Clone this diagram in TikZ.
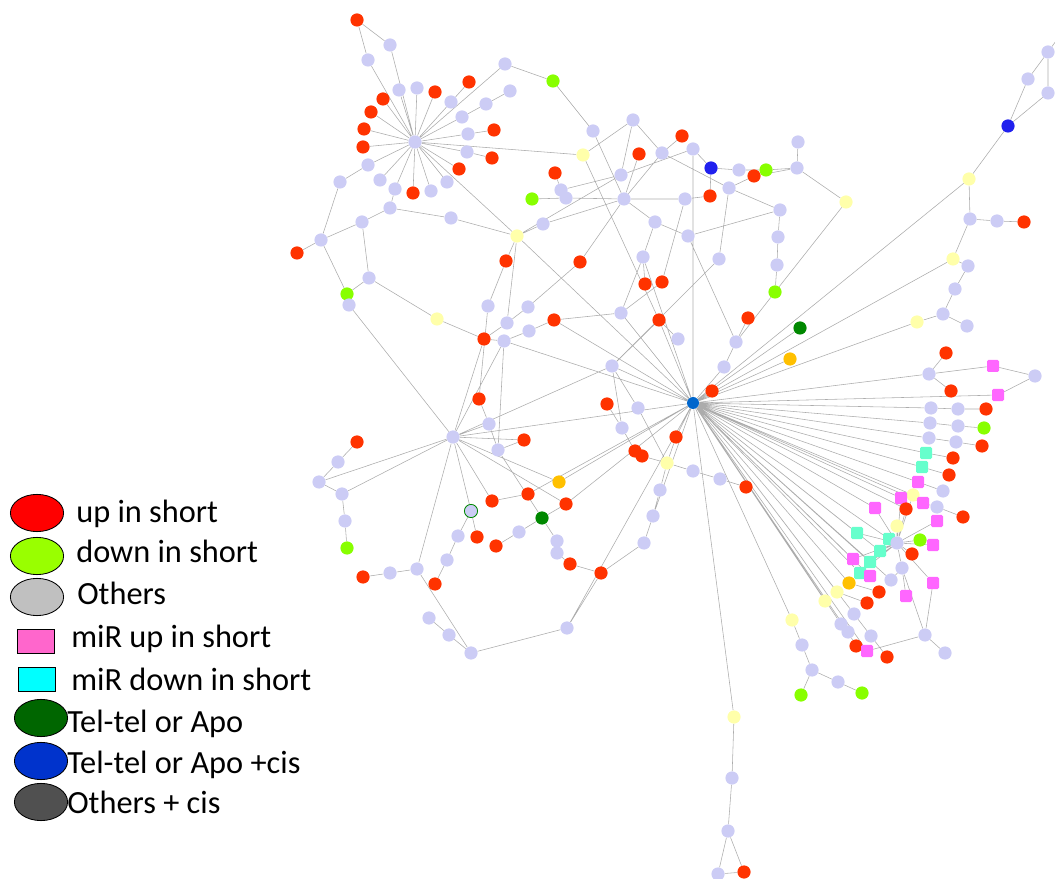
\documentclass[tikz,border=0pt]{standalone}
\usepackage{fontspec}
\setmainfont{Carlito}
\usetikzlibrary{shapes.geometric,backgrounds}

\definecolor{lavnode}{RGB}{204,204,245}
\definecolor{upnode}{RGB}{255,51,0}
\definecolor{dnnode}{RGB}{136,255,0}
\definecolor{yelnode}{RGB}{255,255,170}
\definecolor{oranode}{RGB}{255,192,0}
\definecolor{telnode}{RGB}{0,136,0}
\definecolor{cisnode}{RGB}{32,32,238}
\definecolor{hubnode}{RGB}{0,102,204}
\definecolor{mupnode}{RGB}{255,102,255}
\definecolor{mdnnode}{RGB}{102,255,204}

\tikzset{
  gn/.style={circle, inner sep=0pt, minimum size=0.33cm},
  oth/.style={gn, fill=lavnode},
  upn/.style={gn, fill=upnode},
  dnn/.style={gn, fill=dnnode},
  yel/.style={gn, fill=yelnode},
  ora/.style={gn, fill=oranode},
  tel/.style={gn, fill=telnode},
  cis/.style={gn, fill=cisnode},
  hubn/.style={gn, fill=hubnode},
  mup/.style={rectangle, rounded corners=1pt, inner sep=0pt, minimum size=0.3cm, fill=mupnode},
  mdn/.style={rectangle, rounded corners=1pt, inner sep=0pt, minimum size=0.3cm, fill=mdnnode},
  link/.style={draw=gray!65, line width=0.4pt},
  key/.style={ellipse, draw=black, line width=0.6pt, minimum width=1.33cm, minimum height=0.93cm},
  keysq/.style={rectangle, draw=black, line width=0.6pt, minimum width=0.92cm, minimum height=0.6cm},
  keytxt/.style={anchor=base west, inner sep=0pt, font=\fontsize{23}{26}\selectfont}
}

\begin{document}
\begin{tikzpicture}[x=0.025cm, y=-0.025cm]
\useasboundingbox (0,0) rectangle (1055,879);

% legend
\node[key, fill={rgb,255:red,255;green,0;blue,0}] (k1) at (37,513) {};
\node[key, fill={rgb,255:red,153;green,255;blue,0}] (k2) at (37,556) {};
\node[key, fill={rgb,255:red,192;green,192;blue,192}] (k3) at (37,597) {};
\node[keysq, fill={rgb,255:red,255;green,102;blue,204}] (k4) at (36,641) {};
\node[keysq, fill={rgb,255:red,0;green,255;blue,255}] (k5) at (37,679) {};
\node[key, fill={rgb,255:red,0;green,102;blue,0}] (k6) at (41,718) {};
\node[key, fill={rgb,255:red,0;green,51;blue,204}] (k7) at (41,761) {};
\node[key, fill={rgb,255:red,80;green,80;blue,80}] (k8) at (41,802) {};
\node[keytxt] (t1) at (76,523) {up in short};
\node[keytxt] (t2) at (76,563) {down in short};
\node[keytxt] (t3) at (77,605) {Others};
\node[keytxt] (t4) at (71,648) {miR up in short};
\node[keytxt] (t5) at (71,690) {miR down in short};
\node[keytxt] (t6) at (67,732) {Tel-tel or Apo};
\node[keytxt] (t7) at (67,773) {Tel-tel or Apo +cis};
\node[keytxt] (t8) at (67,813) {Others + cis};

% upper left star
\node[oth] (h1) at (415,142) {};
\node[upn] (a1) at (357,20) {};  \node[oth] (a2) at (390,45) {};  \node[oth] (a3) at (368,60) {};
\node[oth] (a4) at (399,90) {};  \node[oth] (a5) at (417,88) {};  \node[upn] (a6) at (435,92) {};
\node[upn] (a7) at (469,82) {};  \node[oth] (a8) at (451,102) {}; \node[upn] (a9) at (383,99) {};
\node[upn] (a10) at (371,112) {}; \node[oth] (a11) at (462,117) {}; \node[oth] (a12) at (486,104) {};
\node[oth] (a13) at (510,91) {};  \node[upn] (a14) at (364,129) {}; \node[oth] (a15) at (468,134) {};
\node[upn] (a16) at (494,130) {}; \node[upn] (a17) at (363,147) {}; \node[oth] (a18) at (467,152) {};
\node[upn] (a19) at (492,158) {}; \node[upn] (a20) at (459,169) {}; \node[oth] (a21) at (368,165) {};
\node[oth] (a22) at (340,182) {}; \node[oth] (a23) at (380,180) {}; \node[oth] (a24) at (395,189) {};
\node[upn] (a25) at (413,193) {}; \node[oth] (a26) at (431,191) {}; \node[oth] (a27) at (447,182) {};
\node[oth] (a28) at (390,208) {}; \node[oth] (a29) at (362,222) {}; \node[oth] (a30) at (451,218) {};
\node[oth] (a31) at (321,240) {}; \node[upn] (a32) at (297,253) {}; \node[oth] (a33) at (369,278) {};
\node[dnn] (a34) at (347,294) {}; \node[oth] (a35) at (349,305) {}; \node[oth] (a36) at (505,64) {};
\node[dnn] (a37) at (553,81) {};  \node[yel] (y1) at (517,236) {};  \node[upn] (a38) at (506,261) {};

% upper middle
\node[oth] (b1) at (593,131) {};  \node[oth] (b2) at (633,120) {};  \node[upn] (b3) at (682,136) {};
\node[yel] (b4) at (583,155) {};  \node[upn] (b5) at (639,154) {};  \node[oth] (b6) at (662,153) {};
\node[oth] (b7) at (693,149) {};  \node[cis] (b8) at (711,168) {};  \node[oth] (b9) at (739,170) {};
\node[upn] (b10) at (754,176) {}; \node[dnn] (b11) at (766,170) {}; \node[upn] (b12) at (555,173) {};
\node[oth] (b13) at (561,190) {}; \node[oth] (b14) at (566,198) {}; \node[dnn] (b15) at (532,199) {};
\node[oth] (b16) at (621,175) {}; \node[oth] (b17) at (624,199) {}; \node[oth] (b18) at (685,199) {};
\node[upn] (b19) at (710,196) {}; \node[oth] (b20) at (729,188) {}; \node[oth] (b21) at (780,210) {};
\node[oth] (b22) at (543,224) {}; \node[oth] (b23) at (655,222) {}; \node[oth] (b24) at (688,236) {};
\node[oth] (b25) at (778,237) {}; \node[oth] (b26) at (777,265) {}; \node[oth] (b27) at (643,257) {};
\node[oth] (b28) at (719,259) {}; \node[upn] (b29) at (580,262) {}; \node[upn] (b30) at (645,284) {};
\node[upn] (b31) at (662,282) {}; \node[dnn] (b32) at (775,292) {}; \node[oth] (b33) at (798,142) {};
\node[oth] (b34) at (797,168) {}; \node[yel] (b35) at (846,202) {};

% middle
\node[yel] (c1) at (437,319) {};  \node[oth] (c2) at (488,306) {};  \node[oth] (c3) at (528,307) {};
\node[oth] (c4) at (507,323) {};  \node[oth] (c5) at (529,331) {};  \node[upn] (c6) at (484,339) {};
\node[oth] (c7) at (504,341) {};  \node[upn] (c8) at (554,320) {};  \node[oth] (c9) at (621,313) {};
\node[upn] (c10) at (659,320) {}; \node[oth] (c11) at (678,339) {}; \node[upn] (c12) at (748,318) {};
\node[oth] (c13) at (736,342) {}; \node[oth] (c14) at (612,366) {}; \node[oth] (c15) at (724,367) {};
\node[upn] (c16) at (712,391) {}; \node[tel] (c17) at (800,328) {}; \node[ora] (c18) at (790,359) {};
\node[upn] (c19) at (479,399) {}; \node[oth] (c20) at (489,424) {}; \node[oth] (h2) at (453,437) {};
\node[upn] (c21) at (524,440) {}; \node[oth] (c22) at (498,450) {}; \node[upn] (c23) at (607,404) {};
\node[oth] (c24) at (638,408) {}; \node[oth] (c25) at (622,428) {}; \node[upn] (c26) at (676,437) {};
\node[upn] (c27) at (635,451) {}; \node[upn] (c28) at (642,456) {}; \node[yel] (c29) at (667,463) {};
\node[oth] (c30) at (693,471) {}; \node[oth] (c31) at (720,479) {}; \node[upn] (c32) at (746,487) {};
\node[ora] (c33) at (559,482) {}; \node[oth] (c34) at (660,490) {}; \node[oth] (c35) at (653,516) {};
\node[oth] (c36) at (644,543) {}; \node[upn] (c37) at (566,504) {}; \node[tel] (c38) at (542,518) {};
\node[upn] (c39) at (528,494) {}; \node[upn] (c40) at (492,501) {};
\node[oth, draw=telnode, line width=0.6pt] (c41) at (471,511) {};
\node[oth] (c42) at (519,532) {}; \node[upn] (c43) at (496,546) {}; \node[upn] (c44) at (477,537) {};
\node[oth] (c45) at (458,536) {}; \node[oth] (c46) at (447,560) {}; \node[upn] (c47) at (435,584) {};
\node[oth] (c48) at (557,541) {}; \node[oth] (c49) at (557,553) {}; \node[upn] (c50) at (570,564) {};
\node[upn] (c51) at (601,573) {}; \node[oth] (c52) at (567,628) {}; \node[oth] (c53) at (471,653) {};
\node[oth] (c54) at (449,635) {}; \node[oth] (c55) at (429,618) {}; \node[oth] (c56) at (417,569) {};
\node[oth] (c57) at (390,573) {}; \node[upn] (c58) at (363,577) {};
\node[hubn, minimum size=0.3cm] (H) at (693,403) {};

% left arm
\node[upn] (d1) at (357,442) {}; \node[oth] (d2) at (338,462) {}; \node[oth] (d3) at (319,482) {};
\node[oth] (d4) at (342,494) {}; \node[oth] (d5) at (345,521) {}; \node[dnn] (d6) at (347,548) {};

% upper right arm
\coordinate (eout) at (1064,30);
\node[oth] (e1) at (1048,52) {};  \node[oth] (e2) at (1028,79) {};  \node[oth] (e3) at (1048,93) {};
\node[cis] (e4) at (1008,126) {}; \node[yel] (e5) at (969,179) {};  \node[oth] (e6) at (970,219) {};
\node[oth] (e7) at (997,221) {};  \node[upn] (e8) at (1024,222) {}; \node[yel] (e9) at (953,259) {};
\node[oth] (e10) at (968,266) {}; \node[oth] (e11) at (955,289) {}; \node[oth] (e12) at (943,314) {};
\node[oth] (e13) at (967,326) {}; \node[yel] (e14) at (917,322) {};

% right fan
\node[upn] (f1) at (946,353) {};  \node[oth] (f2) at (929,374) {};  \node[mup] (f3) at (993,366) {};
\node[oth] (f4) at (1035,376) {}; \node[upn] (f5) at (951,391) {};  \node[mup] (f6) at (998,395) {};
\node[oth] (f7) at (931,408) {};  \node[oth] (f8) at (958,409) {};  \node[upn] (f9) at (986,409) {};
\node[oth] (f10) at (930,423) {}; \node[oth] (f11) at (958,426) {}; \node[dnn] (f12) at (984,428) {};
\node[oth] (f13) at (929,438) {}; \node[oth] (f14) at (956,442) {}; \node[upn] (f15) at (982,446) {};
\node[mdn] (f16) at (926,453) {}; \node[upn] (f17) at (953,458) {}; \node[mdn] (f18) at (922,467) {};
\node[upn] (f19) at (949,475) {}; \node[mup] (f20) at (918,482) {}; \node[oth] (f21) at (943,491) {};
\node[yel] (f22) at (913,495) {}; \node[mup] (f23) at (901,498) {}; \node[mup] (f24) at (923,503) {};
\node[oth] (f25) at (937,507) {}; \node[upn] (f26) at (963,517) {}; \node[mup] (f27) at (875,508) {};
\node[upn] (f28) at (906,509) {}; \node[mup] (f29) at (937,521) {}; \node[yel] (f30) at (897,526) {};
\node[mdn] (f31) at (857,533) {}; \node[mdn] (f32) at (889,539) {}; \node[oth] (h3) at (897,543) {};
\node[dnn] (f33) at (920,540) {}; \node[mup] (f34) at (933,545) {}; \node[mdn] (f35) at (880,551) {};
\node[upn] (f36) at (912,554) {}; \node[mup] (f37) at (853,559) {}; \node[mdn] (f38) at (870,562) {};
\node[oth] (f39) at (902,568) {}; \node[mdn] (f40) at (860,573) {}; \node[mup] (f41) at (870,576) {};
\node[oth] (f42) at (891,580) {}; \node[mup] (f43) at (933,583) {}; \node[ora] (f44) at (849,583) {};
\node[yel] (f45) at (837,592) {}; \node[upn] (f46) at (879,592) {}; \node[mup] (f47) at (906,596) {};
\node[yel] (f48) at (825,601) {}; \node[upn] (f49) at (867,603) {}; \node[oth] (f50) at (854,614) {};
\node[yel] (f51) at (792,620) {}; \node[oth] (f52) at (841,624) {}; \node[oth] (f53) at (848,632) {};
\node[oth] (f54) at (871,636) {}; \node[oth] (f55) at (925,635) {}; \node[upn] (f56) at (856,646) {};
\node[mup] (f57) at (867,651) {}; \node[upn] (f58) at (887,657) {}; \node[oth] (f59) at (945,653) {};

% lower arms
\node[oth] (g1) at (802,645) {}; \node[oth] (g2) at (812,670) {}; \node[oth] (g3) at (838,682) {};
\node[dnn] (g4) at (862,693) {}; \node[dnn] (g5) at (801,695) {}; \node[yel] (g6) at (734,717) {};
\node[oth] (g7) at (732,778) {}; \node[oth] (g8) at (728,831) {}; \node[oth] (g9) at (718,874) {};
\node[upn] (g10) at (744,872) {};

\begin{scope}[on background layer]
% star 1
\draw[link] (h1)--(a2) (h1)--(a3) (a1)--(a2) (a1)--(a3) (h1)--(a4) (h1)--(a5) (h1)--(a6)
  (h1)--(a8) (a8)--(a7) (h1)--(a11) (a11)--(a12) (a12)--(a13) (h1)--(a9) (h1)--(a10)
  (h1)--(a14) (h1)--(a15) (a15)--(a16) (h1)--(a17) (h1)--(a18) (a18)--(a19) (h1)--(a20)
  (h1)--(a21) (h1)--(a23) (h1)--(a24) (h1)--(a25) (h1)--(a26) (h1)--(a27) (h1)--(a36)
  (h1)--(b4) (h1)--(y1) (a21)--(a22) (a22)--(a31) (a24)--(a28) (a28)--(a29) (a28)--(a30)
  (a30)--(y1) (a29)--(a31) (a31)--(a32) (a31)--(a34) (a29)--(a33) (a33)--(a34) (a33)--(c1)
  (a35)--(h2) (c1)--(c6) (a36)--(a37) (a37)--(b1);
% top
\draw[link] (b1)--(b17) (b2)--(b4) (b2)--(b6) (b2)--(b16) (b6)--(b3) (b6)--(b17) (b6)--(b20)
  (b7)--(H) (b7)--(b8) (b16)--(b7) (b8)--(b9) (b9)--(b11) (b11)--(b34) (b20)--(b10) (b10)--(b34)
  (b8)--(b19) (b17)--(b18) (b18)--(b19) (b17)--(b5) (b12)--(b13) (b13)--(b16) (b14)--(b17)
  (b15)--(b14) (b22)--(b17) (b22)--(y1) (b17)--(b29) (b29)--(c3) (b17)--(b23) (b23)--(b24)
  (b24)--(b21) (b24)--(c13) (b23)--(b27) (b27)--(b30) (b27)--(c9) (b18)--(b31) (b31)--(c9)
  (b20)--(b28) (b28)--(c14) (b20)--(b21) (b21)--(b25) (b25)--(b26) (b26)--(b32) (b32)--(b35)
  (b32)--(c13) (b33)--(b34) (b34)--(b35) (b4)--(c10) (b16)--(y1);
% middle
\draw[link] (c10)--(c11) (c10)--(H) (c10)--(c14) (c8)--(c5) (c8)--(c9) (c13)--(c12) (c15)--(c13)
  (H)--(c15) (H)--(c16) (y1)--(H) (y1)--(a38) (a38)--(c2) (y1)--(c4) (c4)--(c3) (c4)--(c6)
  (c5)--(c7) (c6)--(c7) (c7)--(H) (c19)--(c2) (c19)--(c20) (c20)--(c22) (c22)--(c21) (c7)--(c22)
  (c22)--(c38) (h2)--(c6) (h2)--(c7) (h2)--(c14) (h2)--(c21) (h2)--(H) (h2)--(c33) (h2)--(c37)
  (h2)--(c41) (h2)--(c40) (h2)--(d3) (h2)--(d4) (h2)--(c56) (h2)--(c20) (c40)--(c39) (c39)--(H)
  (c41)--(c44) (c41)--(c45) (c45)--(c46) (c46)--(c47) (c43)--(c42) (c42)--(c38) (c38)--(c37)
  (c37)--(H) (c38)--(c48) (c48)--(c49) (c49)--(c50) (c50)--(c51) (c51)--(c52) (c52)--(c53)
  (c53)--(c54) (c54)--(c55) (c53)--(c56) (c56)--(c57) (c57)--(c58) (c51)--(c36) (c36)--(c35)
  (c35)--(c34) (c34)--(c29) (c29)--(c30) (c30)--(c31) (c31)--(c32) (c29)--(c26) (c26)--(H)
  (c23)--(c25) (c25)--(c27) (c27)--(c28) (c28)--(c29) (c24)--(c29) (c24)--(c14) (c14)--(c25)
  (H)--(b27) (H)--(c8) (H)--(c14) (H)--(c33) (H)--(c52) (H)--(c35) (c9)--(H)
  (d1)--(d2) (d2)--(d3) (d3)--(d4) (d4)--(d5) (d5)--(d6);
% upper right
\draw[link] (e1)--(e2) (e2)--(e4) (e1)--(e3) (e3)--(e4) (e1)--(eout) (e4)--(e5) (e5)--(e6)
  (e6)--(e7) (e7)--(e8) (e6)--(e9) (e5)--(H) (e9)--(H) (e9)--(e10) (e10)--(e11) (e11)--(e12)
  (e12)--(e13) (e12)--(e14) (e14)--(H) (c17)--(H) (c18)--(H);
% fan
\draw[link] (H)--(f2) (f2)--(f1) (f2)--(f5) (f2)--(f3) (f3)--(f4) (f4)--(f6) (f6)--(H)
  (H)--(f7) (f7)--(f8) (f8)--(f9) (H)--(f10) (f10)--(f11) (f11)--(f12) (H)--(f13) (f13)--(f14)
  (f14)--(f15) (H)--(f16) (f16)--(f17) (H)--(f18) (f18)--(f19) (H)--(f20) (f20)--(f21)
  (H)--(f24) (f24)--(f25) (f25)--(f26) (H)--(f23) (H)--(f22) (H)--(f27) (H)--(f31) (H)--(f37)
  (H)--(f40) (H)--(f41) (H)--(f42) (H)--(f44) (f44)--(f46) (H)--(f45) (f45)--(f49) (H)--(f48)
  (H)--(f50) (f50)--(f54) (f54)--(f58) (H)--(f52) (H)--(f53) (f53)--(f56) (H)--(f57) (f57)--(f55)
  (H)--(f28) (H)--(f32) (H)--(f35) (H)--(f38);
\draw[link] (h3)--(f30) (h3)--(f22) (h3)--(f28) (h3)--(f23) (h3)--(f29) (h3)--(f33) (h3)--(f34)
  (h3)--(f36) (h3)--(f32) (h3)--(f35) (h3)--(f38) (h3)--(f40) (h3)--(f37) (h3)--(f39) (h3)--(f27)
  (h3)--(f43) (f39)--(f47) (f43)--(f55) (f39)--(f55) (f55)--(f59) (f31)--(h3) (f42)--(f39);
% lower
\draw[link] (H)--(g6) (H)--(f51) (f51)--(g1) (g1)--(g2) (g2)--(g3) (g3)--(g4) (g2)--(g5)
  (g6)--(g7) (g7)--(g8) (g8)--(g9) (g8)--(g10) (g9)--(g10);
\end{scope}
\end{tikzpicture}
\end{document}
